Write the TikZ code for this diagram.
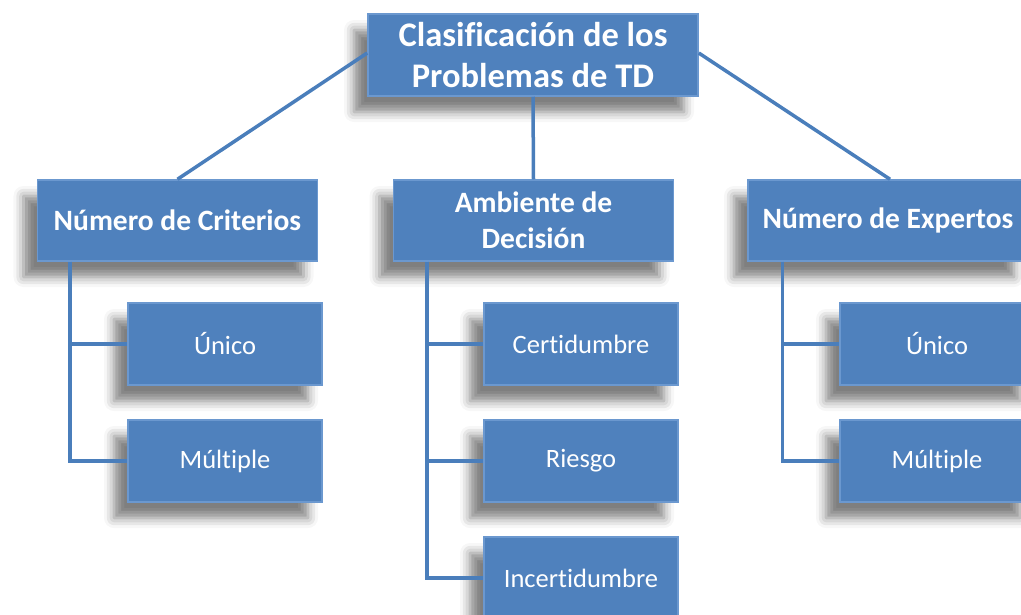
\documentclass[tikz,border=0pt]{standalone}
\usepackage{fontspec}
\setmainfont[Ligatures={NoCommon}]{Carlito}
\usetikzlibrary{positioning}
\usetikzlibrary{shadows.blur}
\definecolor{boxblue}{HTML}{4F81BD}
\definecolor{edgeblue}{HTML}{6B98CF}
\definecolor{linkblue}{HTML}{4A7EBB}
\tikzset{
  box/.style={draw=edgeblue, line width=1.5pt, fill=boxblue, text=white, align=center, inner sep=0pt,
    blur shadow={shadow xshift=-14pt, shadow yshift=-16pt, shadow blur radius=10pt, shadow opacity=50}},
  topbox/.style={box, minimum width=330pt, minimum height=82pt, font=\bfseries\fontsize{34.5}{41}\selectfont},
  groupbox/.style={box, minimum width=280pt, minimum height=81pt, font=\bfseries\fontsize{29.5}{36}\selectfont},
  leafbox/.style={box, minimum width=194pt, minimum height=82pt, font=\fontsize{26.5}{30}\selectfont},
  link/.style={draw=linkblue, line width=3.5pt}
}

\begin{document}
\begin{tikzpicture}[x=1pt, y=-1pt]
            \useasboundingbox (0,0) rectangle (1021,614);
            \clip (0,0) rectangle (1021,614);
            % Classification tree
            \node[topbox] (root) at (533,55) {Clasificación de los\\Problemas de TD};
            \node[groupbox] (crit) at (177.5,220.5) {Número de Criterios};
            \node[groupbox] (amb) at (533.5,220.5) {Ambiente de\\Decisión};
            \node[groupbox] (expe) at (888,220.5) {Número de Expertos};
            
            \node[leafbox] (unicoA) at (225,344) {Único};
            \node[leafbox] (multA) at (225,461) {Múltiple};
            \node[leafbox] (cert) at (581,344) {Certidumbre};
            \node[leafbox] (ries) at (581,461) {Riesgo};
            \node[leafbox] (incert) at (581,578) {Incertidumbre};
            \node[leafbox] (unicoB) at (937,344) {Único};
            \node[leafbox] (multB) at (937,461) {Múltiple};
            
            \draw[link] ([yshift=2pt]root.west) -- (crit.north);
            \draw[link] ([yshift=2pt]root.east) -- ([xshift=2pt]expe.north);
            \draw[link] (root.south) -- (amb.north);
            
            \draw[link] ([xshift=33pt]crit.south west) |- (unicoA.west);
            \draw[link] ([xshift=33pt]crit.south west) |- (multA.west);
            \draw[link] ([xshift=34pt]amb.south west) |- (cert.west);
            \draw[link] ([xshift=34pt]amb.south west) |- (ries.west);
            \draw[link] ([xshift=34pt]amb.south west) |- (incert.west);
            \draw[link] ([xshift=35pt]expe.south west) |- (unicoB.west);
            \draw[link] ([xshift=35pt]expe.south west) |- (multB.west);
        \end{tikzpicture}
\end{document}
